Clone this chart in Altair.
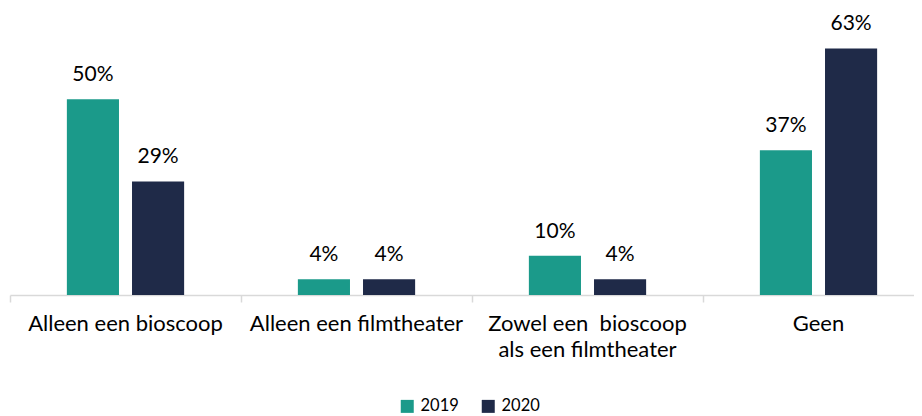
import altair as alt
import pandas as pd

categories = ["Alleen een bioscoop", "Alleen een filmtheater", "Zowel een \u00a0bioscoop|als een filmtheater", "Geen"]
years = ["2019", "2020"]
values_2019 = [50, 4, 10, 37]
values_2020 = [29, 4, 4, 63]

rows = []
for c, a, b in zip(categories, values_2019, values_2020):
    rows.append({"cat": c, "year": "2019", "value": a, "label": f"{a}%"})
    rows.append({"cat": c, "year": "2020", "value": b, "label": f"{b}%"})
df = pd.DataFrame(rows)

FONT = "Lato"
colors = ["#1b9a8a", "#1f2a48"]

x = alt.X("cat:N", sort=categories, title=None,
          scale=alt.Scale(range=[0, 924], paddingInner=0, paddingOuter=0),
          axis=alt.Axis(labelAngle=0, bandPosition=0, ticks=True, tickSize=7,
                        tickColor="#d9d9d9", domainColor="#d9d9d9", domainWidth=1.5,
                        tickWidth=1.5,
                        labelExpr="split(datum.label, '|')", labelFont=FONT,
                        labelFontSize=22, labelColor="#000000", labelPadding=11,
                        labelLineHeight=26, labelLimit=300, grid=False))
xo = alt.XOffset("year:N", sort=years,
                 scale=alt.Scale(paddingInner=0.2, paddingOuter=0.873))
y = alt.Y("value:Q", scale=alt.Scale(domain=[0, 70]), axis=None)

base = alt.Chart(df).encode(x=x, xOffset=xo, y=y)

bars = base.mark_bar().encode(
    color=alt.Color("year:N", sort=years, scale=alt.Scale(domain=years, range=colors),
                    legend=alt.Legend(title=None, orient="none", direction="horizontal",
                                      legendX=389, legendY=377, symbolType="square",
                                      symbolSize=169, symbolOpacity=1, labelFont=FONT,
                                      labelFontSize=16.5, labelColor="#000000",
                                      labelOffset=5, columnPadding=21,
                                      symbolStrokeWidth=0))
)
text = base.mark_text(dy=-18, baseline="alphabetic", font=FONT, fontSize=21,
                      color="#000000").encode(text="label:N")

chart = alt.layer(bars, text).properties(
    width=904, height=274,
    autosize=alt.AutoSizeParams(type="none"),
    padding={"left": 2, "top": 13, "right": 0, "bottom": 121},
).configure_view(stroke=None)

chart.save("out.html", embed_options={"renderer": "svg", "actions": False})
